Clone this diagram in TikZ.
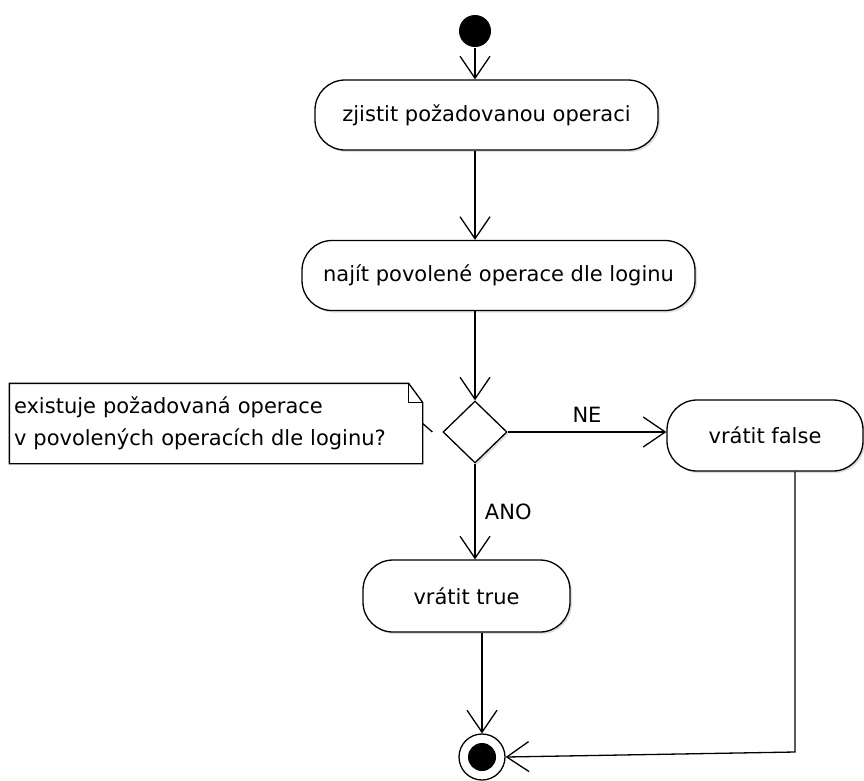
\documentclass[tikz,border=0pt]{standalone}
\usepackage{fontspec}
\setmainfont{DejaVu Sans}
\usetikzlibrary{arrows.meta,shapes.geometric,shadows}

\begin{document}
\begin{tikzpicture}[x=1pt,y=-1pt,line width=1.3pt,
        font=\fontsize{21}{32}\selectfont,
        stin/.style={drop shadow={shadow xshift=2pt,shadow yshift=-2pt,opacity=0.25}},
        akce/.style={draw,fill=white,rounded corners=30pt,minimum height=70pt,inner sep=0pt,stin},
        sipka/.style={-{Straight Barb[length=22pt,width=30pt]}}]
            \useasboundingbox (0,0) rectangle (864,780);

            \node[circle,fill,minimum size=32pt,inner sep=0pt] (start) at (475,31) {};
            \node[akce,minimum width=343pt] (zjistit) at (486.5,115) {zjistit požadovanou operaci};
            \node[akce,minimum width=393pt] (najit) at (498.5,275.5) {najít povolené operace dle loginu};
            \node[diamond,draw,fill=white,minimum width=64pt,minimum height=62pt,inner sep=0pt,stin] (dec) at (475,432) {};
            \node[akce,minimum width=196pt,minimum height=71pt] (nepravda) at (765,435.5) {vrátit false};
            \node[akce,minimum width=207pt,minimum height=72pt] (pravda) at (466.5,596) {vrátit true};
            \node[circle,draw,fill=white,minimum size=46pt,inner sep=0pt] (konec) at (482,757) {};
            \fill (konec) circle (14);

            % poznamka u rozhodnuti
            \node[minimum width=412pt,minimum height=79pt,inner sep=0pt,text width=404pt,align=left] (pozn) at (216,423.5)
                {existuje požadovaná operace\\v povolených operacích dle loginu?};
            \draw (pozn.south west) -- (pozn.north west) -- ([xshift=-14pt]pozn.north east)
                -- ([yshift=-19pt]pozn.north east) -- (pozn.south east) -- cycle;
            \draw ([xshift=-14pt]pozn.north east) -- ++(0,19) -- ++(14,0);
            \draw (pozn.east) -- ([xshift=-10pt]dec.west);

            \coordinate (ohyb) at (795,752);

            \draw[sipka] (start.south) -- (start |- zjistit.north);
            \draw[sipka] (zjistit.south -| start) -- (najit.north -| start);
            \draw[sipka] (najit.south -| start) -- (dec.north);
            \draw[sipka] (dec.east) -- (dec.east -| nepravda.west) node[midway,above=6pt] {NE};
            \draw[sipka] (dec.south) -- (dec.south |- pravda.north) node[midway,right=6pt] {ANO};
            \draw[sipka] (pravda.south -| konec) -- (konec.north);
            \draw[sipka] (nepravda.south -| ohyb) -- (ohyb) -- (konec.east);
        \end{tikzpicture}
\end{document}
